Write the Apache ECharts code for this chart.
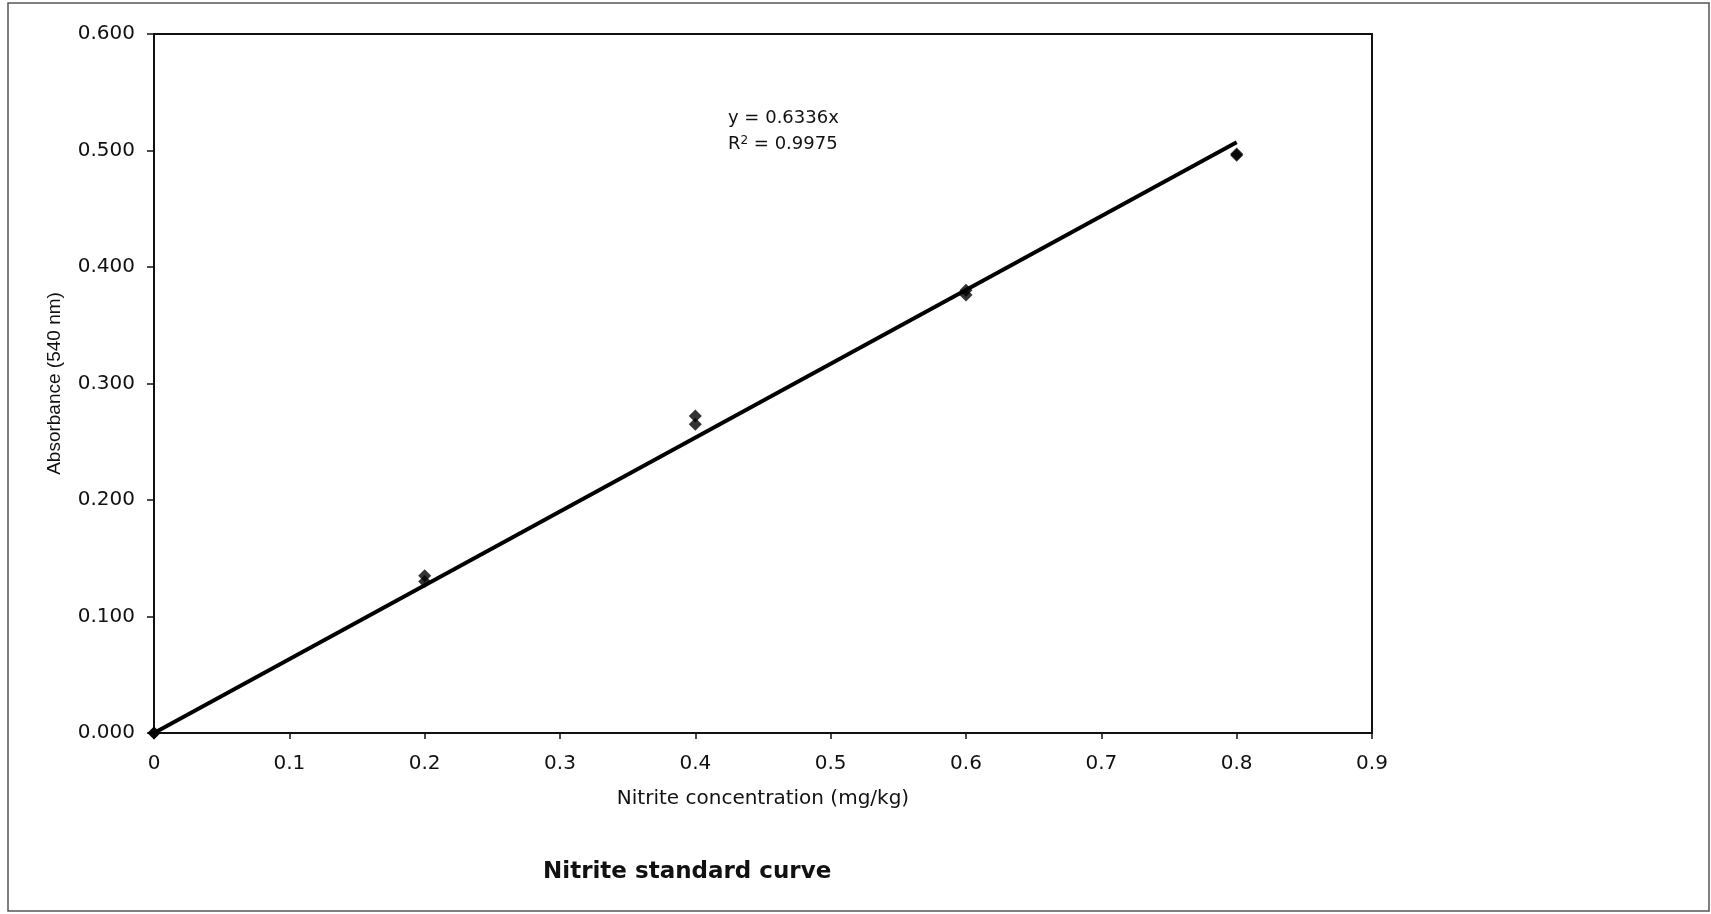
<!DOCTYPE html>
<html lang="en">

<head>
  <meta charset="UTF-8">
  <title>Nitrite standard curve</title>
  <style>
    html, body { margin: 0; padding: 0; background: #fff; }
  </style>
</head>

<body>
  <div id="chart" style="width:1711px;height:914px;"></div>
</body>

</html>
<script src="https://cdn.jsdelivr.net/npm/echarts@6/dist/echarts.min.js"></script>
<script>
  // measured standards (duplicates at each level)
  var concX = [0, 0, 0.2, 0.2, 0.4, 0.4, 0.6, 0.6, 0.8, 0.8];
  var absY = [0, 0, 0.135, 0.130, 0.272, 0.265, 0.380, 0.376, 0.497, 0.496];
  // trendline end points
  var trendX = [0, 0.8];
  var trendY = [0, 0.507];
  // equation text
  var eqLine = 'y = 0.6336x';
  var r2Value = '0.9975';

  var points = concX.map(function (x, i) { return [x, absY[i]]; });
  var trend = trendX.map(function (x, i) { return [x, trendY[i]]; });

  var myChart = echarts.init(document.getElementById('chart'));
  var option = {
    backgroundColor: '#fff',
    animation: false,
    title: {
      text: 'Nitrite standard curve',
      left: 538,
      top: 856,
      textStyle: { fontFamily: 'DejaVu Sans', fontSize: 23, fontWeight: 'bold', color: '#111' }
    },
    grid: {
      left: 154, right: 339, top: 34, bottom: 181,
      show: true, borderColor: '#111', borderWidth: 2, backgroundColor: '#fff'
    },
    xAxis: {
      type: 'value',
      min: 0, max: 0.9, interval: 0.1,
      name: 'Nitrite concentration (mg/kg)',
      nameLocation: 'middle',
      nameGap: 56,
      nameTextStyle: { fontFamily: 'DejaVu Sans', fontSize: 20, color: '#111' },
      axisLine: { show: true, onZero: false, lineStyle: { color: '#111', width: 2 } },
      axisTick: { show: true, length: 6, lineStyle: { color: '#111', width: 1.5 } },
      axisLabel: {
        margin: 21, fontFamily: 'DejaVu Sans', fontSize: 20, color: '#111',
        formatter: function (v) { return v === 0 ? '0' : v.toFixed(1); }
      },
      splitLine: { show: false }
    },
    yAxis: {
      type: 'value',
      min: 0, max: 0.6, interval: 0.1,
      name: 'Absorbance (540 nm)',
      nameLocation: 'middle',
      nameGap: 90,
      nameTextStyle: { fontFamily: 'Liberation Sans', fontSize: 19, color: '#111' },
      axisLine: { show: true, onZero: false, lineStyle: { color: '#111', width: 2 } },
      axisTick: { show: true, length: 7, lineStyle: { color: '#111', width: 1.5 } },
      axisLabel: {
        margin: 19, fontFamily: 'DejaVu Sans', fontSize: 20, color: '#111',
        formatter: function (v) { return v.toFixed(3); }
      },
      splitLine: { show: false }
    },
    graphic: [
      {
        type: 'rect',
        shape: { x: 8, y: 3, width: 1701, height: 908 },
        style: { fill: 'none', stroke: '#555', lineWidth: 1.5 },
        silent: true
      },
      {
        type: 'text',
        left: 728, top: 109,
        style: { text: eqLine, font: '18px "DejaVu Sans"', fill: '#111' }
      },
      {
        type: 'text',
        left: 728, top: 135,
        style: {
          text: 'R{sup|2} = ' + r2Value,
          font: '18px "DejaVu Sans"', fill: '#111',
          rich: { sup: { fontSize: 12, fontFamily: 'DejaVu Sans', verticalAlign: 'top', fill: '#111' } }
        }
      }
    ],
    series: [
      {
        name: 'trend',
        type: 'line',
        data: trend,
        symbol: 'none',
        lineStyle: { color: '#000', width: 4 },
        z: 2
      },
      {
        name: 'standards',
        type: 'scatter',
        data: points,
        symbol: 'diamond',
        symbolSize: 13,
        itemStyle: { color: '#000' },
        z: 3
      }
    ]
  };

  myChart.setOption(option);
</script>
